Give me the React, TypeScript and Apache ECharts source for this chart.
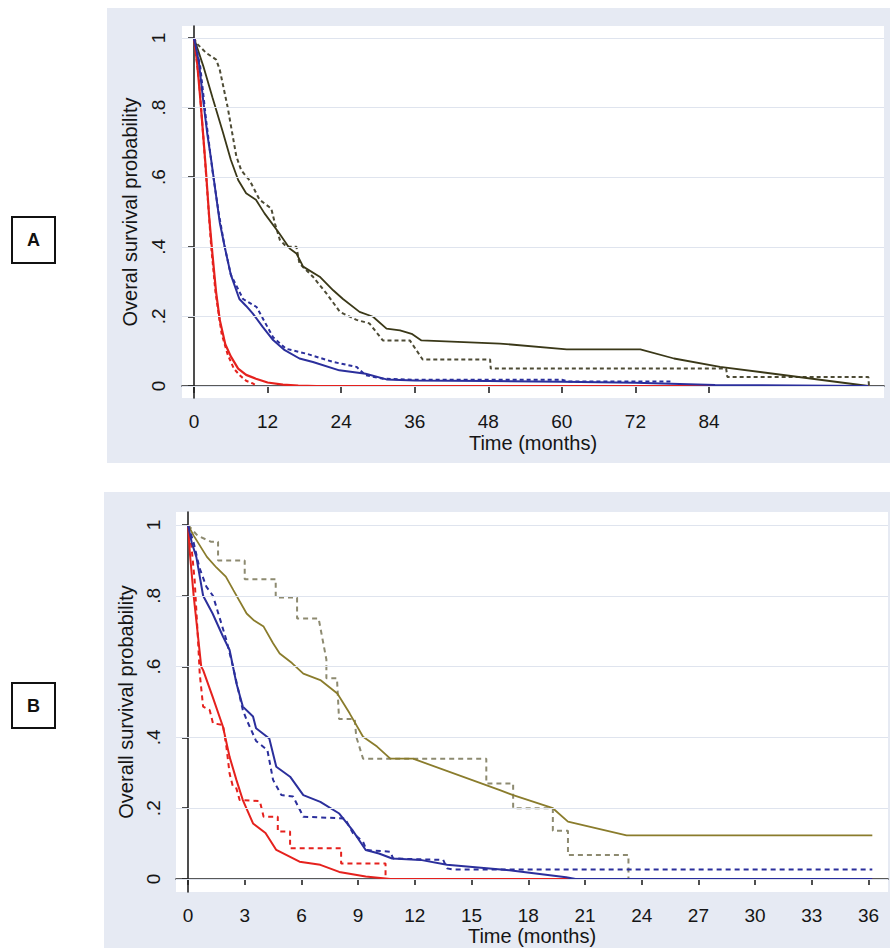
import React, { useEffect, useRef } from "react";
import * as echarts from "echarts";

// ---------- tick values ----------
const aXTicks = [0, 12, 24, 36, 48, 60, 72, 84];
const bXTicks = [0, 3, 6, 9, 12, 15, 18, 21, 24, 27, 30, 33, 36];
const yTicks = [0, 0.2, 0.4, 0.6, 0.8, 1];

// ---------- Panel A (months, survival) ----------
const aOliveSolid = [[0,1],[1.5,0.92],[3,0.83],[4.7,0.73],[6,0.65],[7.2,0.592],[8.5,0.554],[10.1,0.535],[11.5,0.496],[13.9,0.439],[15.6,0.395],[16.7,0.381],[17.8,0.343],[20.5,0.314],[22.7,0.275],[24.3,0.25],[27,0.213],[29.2,0.199],[31.4,0.165],[33.6,0.16],[35.5,0.15],[37.1,0.131],[49.9,0.122],[60.8,0.105],[72.8,0.105],[78.3,0.079],[85.8,0.055],[110,0]];
const aOliveDashed = [[0,1],[0.4,0.985],[2,0.957],[3.6,0.938],[4.2,0.909],[5.5,0.8],[6.9,0.66],[7.7,0.62],[9.1,0.59],[10.7,0.535],[12.6,0.51],[13.2,0.467],[14,0.42],[15.1,0.4],[16.7,0.4],[17.2,0.352],[19.4,0.314],[21.6,0.266],[23.8,0.213],[26.5,0.19],[28.6,0.18],[30.8,0.131],[35.2,0.131],[37.3,0.076],[48.3,0.076],[48.4,0.05],[86.8,0.05],[87,0.026],[110,0.026],[110.1,0]];
const aBlueSolid = [[0,1],[0.8,0.93],[1.5,0.82],[2.2,0.72],[2.8,0.65],[3.5,0.56],[4.2,0.47],[5,0.4],[6,0.32],[7.4,0.25],[8.5,0.23],[9.6,0.208],[11.2,0.17],[12.9,0.132],[14.8,0.103],[17.2,0.079],[19.4,0.069],[23.7,0.045],[28,0.035],[31.4,0.019],[36,0.016],[48,0.014],[60,0.012],[72,0.009],[85,0.003],[110,0]];
const aBlueDashed = [[0,1],[1,0.92],[2,0.76],[3,0.62],[4,0.5],[5,0.4],[6,0.32],[8,0.25],[10.2,0.227],[12.9,0.14],[15,0.107],[18.3,0.093],[22.7,0.069],[26.5,0.055],[28,0.031],[30.8,0.021],[36,0.018],[60,0.018],[61,0.013],[78,0.013]];
const aRedSolid = [[0,1],[0.5,0.93],[1,0.83],[1.5,0.72],[1.9,0.63],[2.5,0.48],[3,0.38],[3.6,0.27],[4.2,0.19],[5.1,0.12],[6,0.085],[7.2,0.05],[8.5,0.032],[10.1,0.021],[12,0.01],[14.5,0.004],[17,0.001],[20,0],[110,0]];
const aRedDashed = [[0,1],[0.8,0.88],[1.5,0.72],[2.2,0.55],[2.8,0.4],[3.5,0.27],[4.5,0.15],[5.5,0.09],[6.5,0.05],[7.5,0.03],[8.5,0.015],[9.5,0.008],[10.3,0]];

// ---------- Panel B ----------
const bOliveSolid = [[0,1],[0.3,0.97],[1,0.91],[1.5,0.88],[2,0.854],[2.4,0.816],[3.1,0.75],[3.5,0.73],[4,0.713],[4.5,0.666],[4.85,0.637],[5.5,0.61],[6.1,0.58],[7,0.562],[7.9,0.524],[8.55,0.468],[9.26,0.402],[10,0.374],[10.7,0.34],[11.9,0.34],[16.5,0.251],[17.2,0.237],[19.3,0.2],[20.1,0.162],[23.2,0.123],[36.2,0.123]];
const bOliveDashed = [[0,1],[0.5,0.97],[1.2,0.953],[1.59,0.953],[1.59,0.9],[3.0,0.9],[3.0,0.847],[4.64,0.847],[4.64,0.795],[5.77,0.795],[5.77,0.736],[6.91,0.736],[7.32,0.62],[7.32,0.567],[7.88,0.567],[7.99,0.452],[8.82,0.452],[8.9,0.402],[9.26,0.34],[15.78,0.34],[15.78,0.27],[17.2,0.27],[17.2,0.2],[19.3,0.2],[19.3,0.136],[20.1,0.136],[20.1,0.068],[23.3,0.068],[23.3,0]];
const bBlueSolid = [[0,1],[0.2,0.95],[0.44,0.91],[0.8,0.8],[1.3,0.75],[1.85,0.685],[2.2,0.647],[2.56,0.553],[2.9,0.487],[3.44,0.459],[3.6,0.426],[4.3,0.397],[4.67,0.317],[5.4,0.289],[6.1,0.237],[7,0.218],[8,0.185],[8.7,0.138],[9.4,0.082],[10.1,0.072],[10.8,0.058],[12.3,0.054],[13.7,0.04],[15.5,0.032],[17,0.025],[20,0.005],[20.5,0],[36.2,0]];
const bBlueDashed = [[0,1],[0.3,0.95],[0.6,0.88],[0.97,0.826],[1.32,0.8],[2.03,0.675],[2.38,0.6],[2.9,0.477],[3.1,0.45],[3.6,0.39],[4.2,0.364],[4.5,0.28],[4.94,0.237],[5.56,0.233],[6.1,0.176],[8.3,0.171],[8.73,0.129],[9.26,0.105],[9.44,0.082],[10.7,0.077],[10.85,0.058],[13.5,0.054],[13.7,0.03],[14,0.027],[36.2,0.027]];
const bRedSolid = [[0,1],[0.1,0.92],[0.3,0.8],[0.5,0.7],[0.7,0.6],[0.8,0.59],[1.3,0.515],[1.85,0.43],[2.2,0.345],[2.56,0.28],[2.9,0.223],[3.44,0.157],[4.1,0.13],[4.67,0.082],[5.9,0.049],[7,0.04],[8,0.02],[9.4,0.007],[10.7,0],[36.2,0]];
const bRedDashed = [[0,1],[0.18,0.94],[0.35,0.845],[0.53,0.675],[0.62,0.58],[0.8,0.487],[1.15,0.477],[1.32,0.44],[1.85,0.435],[2.03,0.374],[2.2,0.298],[2.38,0.26],[2.56,0.256],[2.73,0.223],[3.8,0.22],[4.0,0.176],[4.75,0.176],[4.75,0.134],[5.4,0.134],[5.4,0.087],[8.1,0.087],[8.1,0.044],[10.45,0.044],[10.45,0]];

const FONT = '"Liberation Sans", Arial, Helvetica, sans-serif';
const RED = "#e5211d";
const BLUE = "#2b2f9c";
const TXT = "#151515";

function line(data: number[][], color: string, dashed: boolean, idx: number, width = 2, z = 2, dash: number[] = [5, 4]) {
  return {
    type: "line",
    data,
    xAxisIndex: idx,
    yAxisIndex: idx,
    showSymbol: false,
    symbol: "none",
    z,
    lineStyle: { color, width, type: dashed ? dash : "solid" },
    emphasis: { disabled: true },
  };
}

function gridLines(idx: number) {
  return {
    type: "line",
    data: [],
    xAxisIndex: idx,
    yAxisIndex: idx,
    z: 1,
    markLine: {
      silent: true,
      symbol: ["none", "none"],
      label: { show: false },
      lineStyle: { color: "#dfe4ee", width: 1.2, type: "solid" },
      data: yTicks.map((v) => ({ yAxis: v })),
    },
  };
}

const yFmt = (v: number) => (v === 0 ? "0" : v === 1 ? "1" : "." + Math.round(v * 10));

function xAxis(idx: number, min: number, max: number, ticks: number[], gap: number, tickLen: number) {
  return {
    type: "value",
    gridIndex: idx,
    min,
    max,
    name: "Time (months)",
    nameLocation: "middle",
    nameGap: gap,
    nameTextStyle: { fontSize: 20, color: TXT, fontFamily: FONT },
    axisLine: { show: true, lineStyle: { color: "#222", width: 1.6 } },
    axisTick: { show: true, length: tickLen, customValues: ticks, lineStyle: { color: "#222", width: 1.6 } },
    axisLabel: { customValues: ticks, fontSize: 19, color: TXT, fontFamily: FONT, margin: 14 },
    splitLine: { show: false },
  };
}

function yAxis(idx: number, min: number, max: number, name: string, gap: number, margin: number) {
  return {
    type: "value",
    gridIndex: idx,
    min,
    max,
    name,
    nameLocation: "middle",
    nameRotate: 90,
    nameGap: gap,
    nameTextStyle: { fontSize: 20, color: TXT, fontFamily: FONT },
    axisLine: { show: true, lineStyle: { color: "#222", width: 1.6 } },
    axisTick: { show: true, length: 6, customValues: yTicks, lineStyle: { color: "#222", width: 1.6 } },
    axisLabel: { customValues: yTicks, rotate: 90, formatter: yFmt, fontSize: 19, color: TXT, fontFamily: FONT, margin },
    splitLine: { show: false },
  };
}

export default function App() {
  const ref = useRef<HTMLDivElement>(null);
  useEffect(() => {
    if (!ref.current) return;
    const chart = echarts.init(ref.current, undefined, { renderer: "svg" });
    chart.setOption({
      animation: false,
      backgroundColor: "#ffffff",
      graphic: [
        { type: "rect", z: -10, shape: { x: 107, y: 8, width: 783, height: 455 }, style: { fill: "#e6eaf3" } },
        { type: "rect", z: -10, shape: { x: 104, y: 492, width: 786, height: 456 }, style: { fill: "#e6eaf3" } },
        { type: "rect", shape: { x: 12, y: 217, width: 43, height: 46 }, style: { fill: "#fff", stroke: "#111", lineWidth: 2 } },
        { type: "text", x: 33.5, y: 240, style: { text: "A", font: `bold 18px ${FONT}`, fill: "#111", align: "center", verticalAlign: "middle" } },
        { type: "rect", shape: { x: 12, y: 683, width: 43, height: 45 }, style: { fill: "#fff", stroke: "#111", lineWidth: 2 } },
        { type: "text", x: 33.5, y: 705.5, style: { text: "B", font: `bold 18px ${FONT}`, fill: "#111", align: "center", verticalAlign: "middle" } },
      ],
      grid: [
        { left: 182, top: 26, right: 6, bottom: 550, show: true, backgroundColor: "#ffffff", borderWidth: 0 },
        { left: 176, top: 512, right: 2, bottom: 56, show: true, backgroundColor: "#ffffff", borderWidth: 0 },
      ],
      xAxis: [xAxis(0, -1.96, 112.55, aXTicks, 35, 7), xAxis(1, -0.635, 37.03, bXTicks, 34, 6)],
      yAxis: [
        yAxis(0, -0.0345, 1.0345, "Overal survival probability", 42, 14),
        yAxis(1, -0.0367, 1.0367, "Overall survival probability", 36, 13),
      ],
      series: [
        gridLines(0),
        line(aOliveDashed, "#4d4b35", true, 0, 2, 2, [4, 3]),
        line(aOliveSolid, "#3a3818", false, 0, 1.8),
        line(aRedDashed, RED, true, 0, 2, 3, [4, 3]),
        line(aRedSolid, RED, false, 0, 2.2, 3),
        line(aBlueDashed, BLUE, true, 0, 2, 4, [4, 3]),
        line(aBlueSolid, BLUE, false, 0, 2, 4),
        gridLines(1),
        line(bOliveDashed, "#8d8a70", true, 1, 2),
        line(bOliveSolid, "#8a7c2c", false, 1, 1.8),
        line(bRedDashed, RED, true, 1, 2, 3),
        line(bRedSolid, RED, false, 1, 2, 3),
        line(bBlueDashed, BLUE, true, 1, 2, 4),
        line(bBlueSolid, BLUE, false, 1, 2, 4),
      ],
    });
    return () => chart.dispose();
  }, []);
  return <div ref={ref} style={{ position: "absolute", left: 0, top: 0, width: 890, height: 948 }} />;
}
